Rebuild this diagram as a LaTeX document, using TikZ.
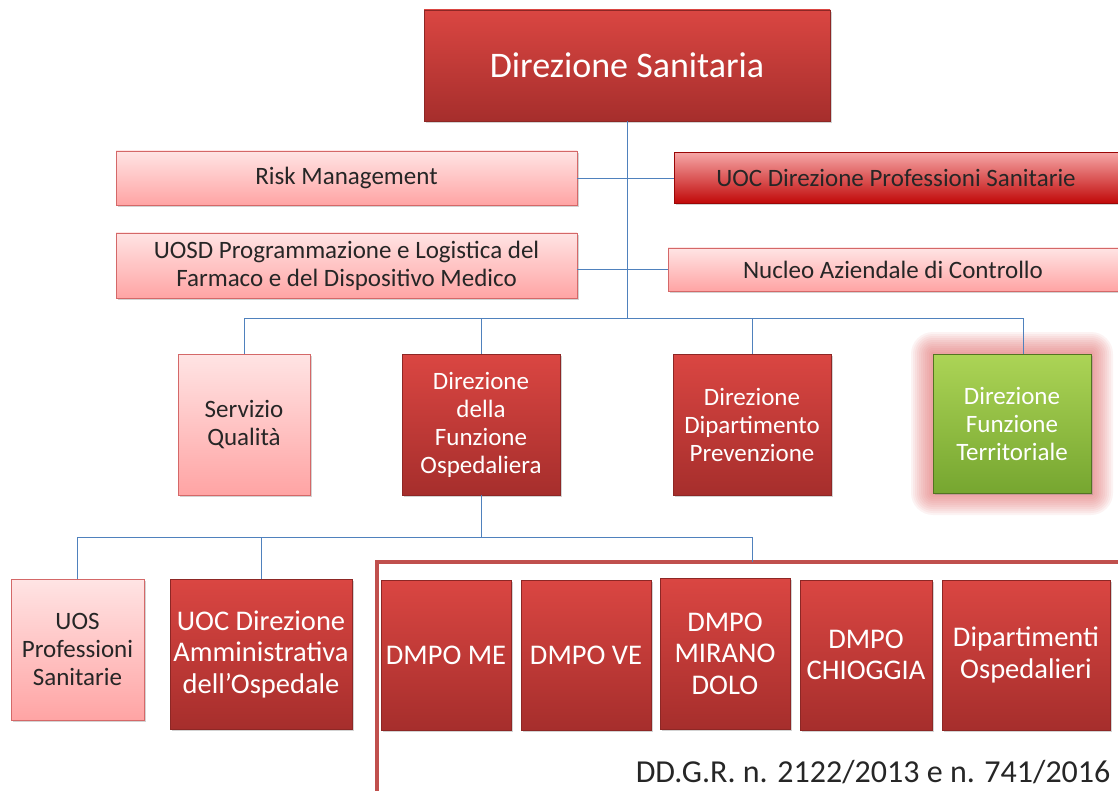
\documentclass[tikz,border=0pt]{standalone}
\usepackage{fontspec}
\setmainfont{Carlito}
\usetikzlibrary{positioning}
\usetikzlibrary{shadows}

\definecolor{redtop}{RGB}{218,70,66}
\definecolor{redbot}{RGB}{166,46,44}
\definecolor{pinktop}{RGB}{255,228,228}
\definecolor{pinkbot}{RGB}{255,164,164}
\definecolor{pinkline}{RGB}{212,104,104}
\definecolor{deeptop}{RGB}{246,166,166}
\definecolor{deepbot}{RGB}{192,8,8}
\definecolor{greentop}{RGB}{172,212,86}
\definecolor{greenbot}{RGB}{118,166,48}
\definecolor{linkblue}{RGB}{79,129,189}
\definecolor{framered}{RGB}{192,80,77}
\definecolor{glowred}{RGB}{222,100,100}

\begin{document}
\begin{tikzpicture}[x=1pt,y=-1pt,
    box/.style={rectangle,inner sep=2pt,align=center,
                drop shadow={opacity=.35,shadow xshift=2pt,shadow yshift=-2pt}},
    dark box/.style={box,top color=redtop,bottom color=redbot,draw=redbot!85!black,text=white},
    pink box/.style={box,top color=pinktop,bottom color=pinkbot,draw=pinkline,text=black!85},
    deep box/.style={box,top color=deeptop,bottom color=deepbot,draw=deepbot!80!black,text=black!85},
    green box/.style={box,top color=greentop,bottom color=greenbot,draw=greenbot!70!black,text=white},
    small/.style={font=\fontsize{25}{28}\selectfont},
    large/.style={font=\fontsize{28.5}{31.5}\selectfont},
    link/.style={draw=linkblue,line width=0.8pt}]
\useasboundingbox (0,0) rectangle (1118,791);

% glow round the territorial box
\foreach \s in {2,4,...,22}
  \fill[glowred,opacity=0.08,rounded corners=\s pt] (933-\s,354-\s) rectangle (1091+\s,493+\s);

\node[dark box,minimum width=406pt,minimum height=111pt,font=\fontsize{36}{40}\selectfont] (ds) at (627,65.5) {Direzione Sanitaria};
\node[pink box,small,minimum width=461pt,minimum height=54pt] (risk) at (346.5,178) {Risk Management};
\node[deep box,small,minimum width=444pt,minimum height=51pt] (uocps) at (896,178) {UOC Direzione Professioni Sanitarie};
\node[pink box,small,minimum width=461pt,minimum height=65pt] (uosd) at (346.5,265.5) {UOSD Programmazione e Logistica del\\Farmaco e del Dispositivo Medico};
\node[pink box,small,minimum width=450pt,minimum height=43pt] (nac) at (893,269.5) {Nucleo Aziendale di Controllo};

\node[pink box,small,minimum width=132pt,minimum height=141pt] (sq) at (244,424.5) {Servizio\\Qualità};
\node[dark box,small,minimum width=158pt,minimum height=141pt] (dfo) at (481,424.5) {Direzione\\della\\Funzione\\Ospedaliera};
\node[dark box,small,minimum width=158pt,minimum height=141pt] (ddp) at (752,424.5) {Direzione\\Dipartimento\\Prevenzione};
\node[green box,small,minimum width=158pt,minimum height=139pt] (dft) at (1012,423.5) {Direzione\\Funzione\\Territoriale};

\node[pink box,small,minimum width=133pt,minimum height=141pt] (uos) at (77.5,649.5) {UOS\\Professioni\\Sanitarie};
\node[dark box,large,minimum width=182pt,minimum height=150pt] (uocda) at (261,654) {UOC Direzione\\Amministrativa\\dell’Ospedale};

\node[dark box,large,minimum width=130pt,minimum height=150pt] (me) at (446,655) {DMPO ME};
\node[dark box,large,minimum width=130pt,minimum height=150pt] (ve) at (586,655) {DMPO VE};
\node[dark box,large,minimum width=130pt,minimum height=151pt] (mirano) at (725,653.5) {DMPO\\MIRANO\\DOLO};
\node[dark box,large,minimum width=132pt,minimum height=150pt] (chioggia) at (866,655) {DMPO\\CHIOGGIA};
\node[dark box,large,minimum width=168pt,minimum height=150pt] (dip) at (1026,655) {Dipartimenti\\Ospedalieri};

% frame round the hospital units
\coordinate (ftop) at (752,562);
\draw[framered,line width=4pt] (375,562) -- (1118,562);
\draw[framered,line width=4pt] (377,562) -- (377,791);

\node[anchor=east,font=\fontsize{32}{36}\selectfont,text=black!85] (ddgr) at (1114,772) {DD.G.R. n. 2122/2013 e n. 741/2016};

% connectors
\coordinate (bus1) at (627,318);
\coordinate (bus2) at (481,537);
\path[link]
  (ds.south) -- (bus1)
  (risk.east) -- (uocps.west)
  (nac.west -| uosd.east) -- (nac.west)
  (bus1) -| (sq.north)
  (bus1) -| (dfo.north)
  (bus1) -| (ddp.north)
  (bus1) -| ([xshift=11pt]dft.north)
  (dfo.south) -- (bus2)
  (bus2) -| (uos.north)
  (bus2) -| (uocda.north)
  (bus2) -| (ftop);

\end{tikzpicture}
\end{document}
